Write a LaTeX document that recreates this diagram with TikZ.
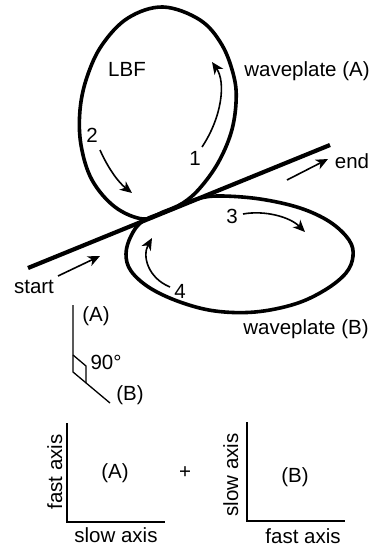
\documentclass[tikz,border=0pt]{standalone}
\usepackage{fontspec}
\setmainfont{Liberation Sans}
\usetikzlibrary{arrows.meta}
\begin{document}
\begin{tikzpicture}[x=1pt,y=-1pt,
  loop/.style={line width=3.6pt},
  fiber/.style={line width=4.2pt},
  flow/.style={line width=1.6pt,-{Stealth[length=12pt,width=10.5pt,inset=3.5pt]}},
  thin/.style={line width=1.3pt},
  axisline/.style={line width=1.6pt},
  lbl/.style={inner sep=0pt,anchor=base,font=\fontsize{20.5}{24}\selectfont}]
\useasboundingbox (0,0) rectangle (377,548);
% fiber loops
\draw[loop] plot[smooth cycle,tension=0.6] coordinates {(163,7) (200,20) (222,45) (234,77) (236,103) (231,133) (218,163) (200,188) (183,203) (163,212) (143,219) (115,207) (92,180) (81,145) (80,110) (87,77) (102,45) (128,18)};
\draw[loop] plot[smooth cycle,tension=0.6] coordinates {(143,221) (170,210) (197,199) (220,196) (260,199) (300,208) (330,222) (349,240) (353,256) (346,273) (325,290) (295,304) (255,312) (215,311) (180,302) (150,288) (131,271) (126,254) (131,236)};
% fiber line
\coordinate (fs) at (28,268);
\coordinate (fe) at (330,145);
\draw[fiber] (fs) -- (fe);
% flow arrows
\coordinate (a1s) at (202,147); \coordinate (a1e) at (212,62);
\draw[flow] (a1s) .. controls (222,117) and (226,82) .. (a1e);
\coordinate (a2s) at (100,150); \coordinate (a2e) at (132,193);
\draw[flow] (a2s) .. controls (108,168) and (118,182) .. (a2e);
\coordinate (a3s) at (243,214); \coordinate (a3e) at (305,232);
\draw[flow] (a3s) .. controls (265,210) and (290,217) .. (a3e);
\coordinate (a4s) at (170,287); \coordinate (a4e) at (152,238);
\draw[flow] (a4s) .. controls (148,278) and (142,256) .. (a4e);
\coordinate (ss) at (58,276); \coordinate (se) at (100,256);
\draw[flow] (ss) -- (se);
\coordinate (es) at (287,180); \coordinate (ee) at (328,159);
\draw[flow] (es) -- (ee);
% labels
\node[lbl] (lbf) at (127,77) {LBF};
\node[lbl] (wa) at (307,77) {waveplate (A)};
\node[lbl] (wb) at (306,334) {waveplate (B)};
\node[lbl] (endl) at (352,168) {end};
\node[lbl] (startl) at (34,293) {start};
\node[lbl] (n1) at (195,166) {1};
\node[lbl] (n2) at (92,143) {2};
\node[lbl] (n3) at (232,223) {3};
\node[lbl] (n4) at (180,298) {4};
% angle sketch
\coordinate (va) at (73,305);
\coordinate (vo) at (73,372);
\coordinate (vb) at (110,403);
\draw[thin] (va) -- (vo) -- (vb);
\coordinate (m1) at (73,355);
\coordinate (m2) at (86,366);
\coordinate (m3) at (86,383);
\draw[thin] (m1) -- (m2) -- (m3);
\node[lbl] (angA) at (96,321) {(A)};
\node[lbl] (ang) at (106,369) {90\textdegree};
\node[lbl] (angB) at (130,400) {(B)};
% axes A
\coordinate (la) at (67,423); \coordinate (lo) at (67,522); \coordinate (lb) at (165,522);
\draw[axisline] (la) -- (lo) -- (lb);
\node[lbl,rotate=90] (fastA) at (62,472) {fast axis};
\node[lbl] (slowA) at (116,542) {slow axis};
\node[lbl] (boxA) at (115,478) {(A)};
\node[inner sep=0pt,font=\fontsize{20.5}{24}\selectfont] (plus) at (185,473) {+};
% axes B
\coordinate (ra) at (247,422); \coordinate (ro) at (247,521); \coordinate (rb) at (345,521);
\draw[axisline] (ra) -- (ro) -- (rb);
\node[lbl,rotate=90] (slowB) at (238,475) {slow axis};
\node[lbl] (fastB) at (303,543) {fast axis};
\node[lbl] (boxB) at (295,482) {(B)};
\end{tikzpicture}
\end{document}
